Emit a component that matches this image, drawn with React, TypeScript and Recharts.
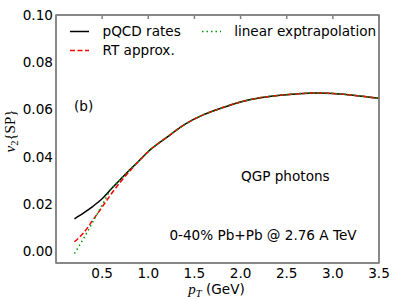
import React from 'react';
import { LineChart, Line, XAxis, YAxis, Legend, ReferenceDot, ReferenceArea } from 'recharts';

const FONT = '"DejaVu Sans", sans-serif';
const MATH = '"Liberation Serif", "DejaVu Serif", serif';
const FRAME = '#808080';
const FS = 13.6;

// transverse momentum grid (GeV)
const pT = [0.2, 0.3, 0.4, 0.5, 0.6, 0.7, 0.8, 0.9, 1.0, 1.2, 1.4, 1.6, 1.8, 2.0, 2.2, 2.4, 2.6, 2.8, 3.0, 3.2, 3.4, 3.5];

const pqcdRates = [0.0137, 0.0162, 0.019, 0.0222, 0.0264, 0.0305, 0.0345, 0.0383, 0.0422, 0.0482, 0.0538, 0.0578, 0.0607, 0.0632, 0.0649, 0.0659, 0.0666, 0.067, 0.0668, 0.0661, 0.0652, 0.0647];
const rtApprox = [0.004, 0.0078, 0.0132, 0.0187, 0.0243, 0.0294, 0.034, 0.0383, 0.0422, 0.0482, 0.0538, 0.0578, 0.0607, 0.0632, 0.0649, 0.0659, 0.0666, 0.067, 0.0668, 0.0661, 0.0652, 0.0647];
const linearExtrap = [-0.001, 0.0055, 0.0125, 0.0195, 0.0264, 0.0305, 0.0345, 0.0383, 0.0422, 0.0482, 0.0538, 0.0578, 0.0607, 0.0632, 0.0649, 0.0659, 0.0666, 0.067, 0.0668, 0.0661, 0.0652, 0.0647];

const xTicks = [0.5, 1.0, 1.5, 2.0, 2.5, 3.0, 3.5];
const yTicks = [0.0, 0.02, 0.04, 0.06, 0.08, 0.1];
const xDomain = [0, 3.5];
const yDomain = [-0.005, 0.1];

const series = [
  { key: 'pqcd', name: 'pQCD rates', color: '#000000', dash: undefined, col: 0, row: 0 },
  { key: 'rt', name: 'RT approx.', color: '#ff0000', dash: '5 2.5', col: 0, row: 1 },
  { key: 'lin', name: 'linear exptrapolation', color: '#009900', dash: '1.5 3', col: 1, row: 0 },
];

const data = pT.map((x, i) => ({
  pT: x,
  pqcd: pqcdRates[i],
  rt: rtApprox[i],
  lin: linearExtrap[i],
}));

const tickStyle = { fill: '#000', fontSize: FS, fontFamily: FONT };
const blank = () => '';

const LegendBox = () => (
  <div style={{ position: 'relative', width: 320, height: 40, fontFamily: FONT, fontSize: FS, color: '#000' }}>
    {series.map((s) => (
      <div
        key={s.key}
        style={{
          position: 'absolute',
          left: s.col * 131.7,
          top: s.row * 19,
          height: 13,
          lineHeight: '13px',
          whiteSpace: 'nowrap',
          display: 'flex',
          alignItems: 'center',
        }}
      >
        <svg width={19} height={13} style={{ display: 'block' }}>
          <line x1={0} y1={6.5} x2={19} y2={6.5} stroke={s.color} strokeWidth={1.5} strokeDasharray={s.dash} />
        </svg>
        <span style={{ marginLeft: 13.5 }}>{s.name}</span>
      </div>
    ))}
  </div>
);

const YTitle = ({ viewBox }: any) => {
  const cx = viewBox.x + 15;
  const cy = viewBox.y + viewBox.height / 2 - 8;
  return (
    <text transform={`translate(${cx},${cy}) rotate(-90)`} textAnchor="middle" fontSize={15} fontFamily={MATH} fill="#000">
      <tspan fontStyle="italic">v</tspan>
      <tspan fontSize={10.5} dy={3}>2</tspan>
      <tspan dy={-3}>{'{SP}'}</tspan>
    </text>
  );
};

const XTitle = ({ viewBox }: any) => {
  const cx = viewBox.x + viewBox.width / 2 - 1;
  const y = viewBox.y + 31;
  return (
    <text x={cx} y={y} textAnchor="middle" fill="#000">
      <tspan fontFamily={MATH} fontStyle="italic" fontSize={15}>p</tspan>
      <tspan fontFamily={MATH} fontStyle="italic" fontSize={10.5} dy={3}>T</tspan>
      <tspan fontFamily={FONT} fontSize={FS} dy={-3}>{' (GeV)'}</tspan>
    </text>
  );
};

const noteStyle = { fill: '#000', fontSize: FS, fontFamily: FONT };

export default function App() {
  return (
    <div style={{ position: 'absolute', left: 0, top: 0 }}>
      <LineChart width={399} height={299} data={data} margin={{ top: 15, right: 20, bottom: 0, left: 0 }}>
        <XAxis
          dataKey="pT"
          type="number"
          domain={xDomain}
          ticks={xTicks}
          interval={0}
          tickFormatter={(v: number) => v.toFixed(1)}
          tickLine={false}
          tickSize={0}
          tickMargin={5}
          height={36}
          stroke={FRAME}
          strokeWidth={1.5}
          tick={tickStyle}
          label={XTitle}
        />
        {/* mirrored axes: top and right sides of the box, ticks pointing inward */}
        <XAxis
          xAxisId="top"
          dataKey="pT"
          orientation="top"
          mirror
          type="number"
          domain={xDomain}
          ticks={xTicks}
          interval={0}
          tickFormatter={blank}
          tickSize={4}
          height={10}
          stroke={FRAME}
          strokeWidth={1.5}
        />
        <YAxis
          type="number"
          domain={yDomain}
          ticks={yTicks}
          interval={0}
          tickFormatter={(v: number) => v.toFixed(2)}
          tickLine={false}
          tickSize={0}
          tickMargin={3}
          width={56}
          stroke={FRAME}
          strokeWidth={1.5}
          tick={tickStyle}
          label={YTitle}
        />
        <YAxis
          yAxisId="right"
          orientation="right"
          mirror
          type="number"
          domain={yDomain}
          ticks={yTicks}
          interval={0}
          tickFormatter={blank}
          tickSize={4}
          width={10}
          stroke={FRAME}
          strokeWidth={1.5}
        />
        <ReferenceArea
          x1={xDomain[0]}
          x2={xDomain[1]}
          y1={yDomain[0]}
          y2={yDomain[1]}
          fill="#ffffff"
          fillOpacity={0}
          stroke={FRAME}
          strokeWidth={1.5}
        />
        {series.map((s) => (
          <Line
            key={s.key}
            dataKey={s.key}
            name={s.name}
            type="monotone"
            stroke={s.color}
            strokeWidth={1.5}
            strokeDasharray={s.dash}
            dot={false}
            isAnimationActive={false}
          />
        ))}
        <ReferenceDot x={0.3} y={0.0614} r={0} label={{ value: '(b)', position: 'center', ...noteStyle }} />
        <ReferenceDot x={2.485} y={0.0318} r={0} label={{ value: 'QGP photons', position: 'center', ...noteStyle }} />
        <ReferenceDot
          x={2.243}
          y={0.0068}
          r={0}
          label={{ value: '0-40% Pb+Pb @ 2.76 A TeV', position: 'center', ...noteStyle }}
        />
        <Legend
          layout="horizontal"
          verticalAlign="middle"
          align="center"
          content={LegendBox}
          wrapperStyle={{ left: 70, top: 24.8, width: 320 }}
        />
      </LineChart>
    </div>
  );
}
